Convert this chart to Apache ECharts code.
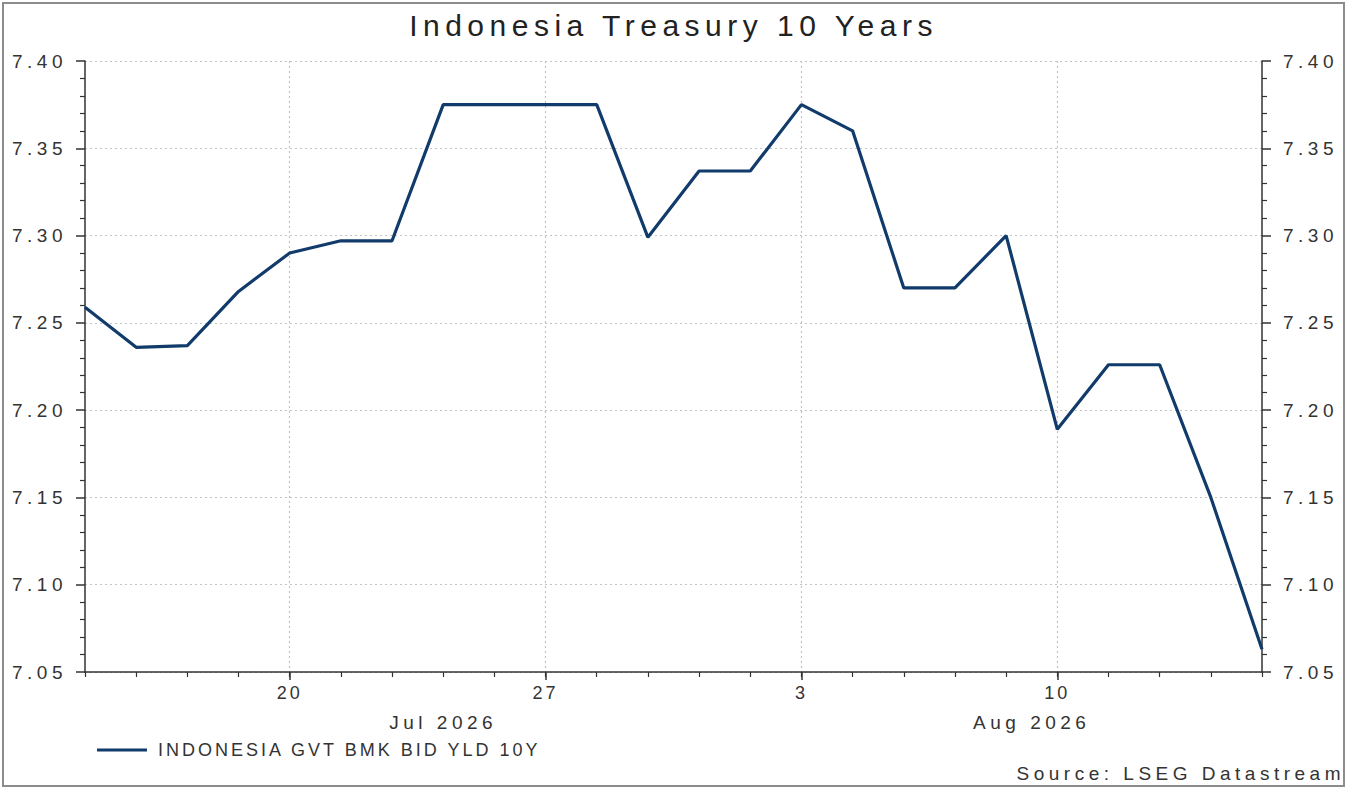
<!DOCTYPE html>
<html>
<head>
<meta charset="utf-8">
<script src="https://cdn.jsdelivr.net/npm/echarts@6/dist/echarts.min.js"></script>
<style>
  html, body { margin: 0; padding: 0; background: #fff; }
  #main { width: 1347px; height: 789px; }
  /* the reference text is set quite loose */
  #main text { letter-spacing: 3px; }
  #main text[style*="30px"] { letter-spacing: 5.5px; }
  #main text[style*="19px"] { letter-spacing: 4.5px; }
  #frame {
    position: absolute; left: 2px; top: 2px; width: 1343px; height: 785px;
    box-sizing: border-box; border: 2px solid #8c8c8c; pointer-events: none;
  }
</style>
</head>
<body>
<div id="main"></div>
<div id="frame"></div>
<script>
// business days on the axis
const dates = [
  "2026-07-14", "2026-07-15", "2026-07-16", "2026-07-17",
  "2026-07-20", "2026-07-21", "2026-07-22", "2026-07-23", "2026-07-24",
  "2026-07-27", "2026-07-28", "2026-07-29", "2026-07-30", "2026-07-31",
  "2026-08-03", "2026-08-04", "2026-08-05", "2026-08-06", "2026-08-07",
  "2026-08-10", "2026-08-11", "2026-08-12", "2026-08-13", "2026-08-14"
];
const yields = [
  7.259, 7.236, 7.237, 7.268,
  7.290, 7.297, 7.297, 7.375, 7.375,
  7.375, 7.375, 7.299, 7.337, 7.337,
  7.375, 7.360, 7.270, 7.270, 7.300,
  7.189, 7.226, 7.226, 7.150, 7.063
];
const seriesName = "INDONESIA GVT BMK BID YLD 10Y";
const yTicks = [7.05, 7.10, 7.15, 7.20, 7.25, 7.30, 7.35, 7.40];
const monthNames = ["Jan", "Feb", "Mar", "Apr", "May", "Jun", "Jul", "Aug", "Sep", "Oct", "Nov", "Dec"];

const isMonday = (d) => new Date(d + "T00:00:00Z").getUTCDay() === 1;

// month label sits between the month's first day and the next month's first day
const months = [];
dates.forEach((d, i) => {
  const key = d.slice(0, 7);
  if (!months.length || months[months.length - 1].key !== key) {
    months.push({ key: key, start: i });
  }
});
months.forEach((m, k) => {
  const end = k + 1 < months.length ? months[k + 1].start : dates.length - 1;
  m.center = (m.start + end) / 2;
  m.label = monthNames[+m.key.slice(5, 7) - 1] + " " + m.key.slice(0, 4);
});

const textColor = "#333";
const font = "'Liberation Sans', Arial, sans-serif";
const chart = echarts.init(document.getElementById("main"), null, { renderer: "svg" });

const yAxisBase = {
  type: "value",
  min: yTicks[0],
  max: yTicks[yTicks.length - 1],
  interval: 0.05,
  axisLine: { show: true, lineStyle: { color: "#333", width: 1.5 } },
  axisTick: { show: true, length: 9, lineStyle: { color: "#333", width: 1.5 } },
  minorTick: { show: true, splitNumber: 5, length: 5, lineStyle: { color: "#333", width: 1.2 } },
  axisLabel: {
    fontSize: 19, color: textColor, fontFamily: font,
    formatter: (v) => v.toFixed(2)
  }
};

chart.setOption({
  animation: false,
  backgroundColor: "#fff",
  title: [
    {
      text: "Indonesia Treasury 10 Years",
      left: "center",
      top: 5,
      textStyle: { fontSize: 30, fontWeight: "normal", color: "#222", fontFamily: font }
    },
    {
      text: "Source: LSEG Datastream",
      left: "right",
      bottom: 1,
      padding: [5, 2, 5, 5],
      textStyle: { fontSize: 19, fontWeight: "normal", color: "#333", fontFamily: font }
    }
  ],
  legend: {
    left: 92,
    top: 736,
    icon: "rect",
    itemWidth: 50,
    itemHeight: 3,
    textStyle: { fontSize: 18, color: textColor, fontFamily: font, padding: [0, 0, 0, 6] },
    data: [seriesName]
  },
  grid: { left: 85, right: 85, top: 61, bottom: 117, containLabel: false },
  xAxis: [
    {
      type: "category",
      data: dates,
      boundaryGap: false,
      position: "bottom",
      axisLine: { show: true, onZero: false, lineStyle: { color: "#333", width: 1.5 } },
      axisTick: {
        show: true, length: 8, interval: (i, d) => isMonday(d),
        lineStyle: { color: "#333", width: 1.5 }
      },
      axisLabel: {
        interval: (i, d) => isMonday(d),
        formatter: (d) => String(+d.slice(8, 10)),
        fontSize: 18, color: textColor, fontFamily: font, margin: 12
      },
      splitLine: {
        show: true, interval: (i, d) => isMonday(d),
        lineStyle: { color: "#c4c4c4", type: [2, 3], width: 1.2 }
      }
    },
    {
      type: "category",
      data: dates,
      boundaryGap: false,
      position: "bottom",
      axisLine: { show: false, onZero: false },
      axisTick: { show: true, length: 5, interval: 0, lineStyle: { color: "#333", width: 1.2 } },
      axisLabel: { show: false },
      splitLine: { show: false }
    },
    {
      type: "value",
      min: 0,
      max: dates.length - 1,
      interval: 0.5,
      position: "bottom",
      axisLine: { show: false, onZero: false },
      axisTick: { show: false },
      splitLine: { show: false },
      axisLabel: {
        margin: 41,
        fontSize: 19, color: textColor, fontFamily: font,
        showMinLabel: true, showMaxLabel: true,
        formatter: (v) => {
          const m = months.find((mm) => Math.abs(mm.center - v) < 1e-6);
          return m ? m.label : "";
        }
      }
    }
  ],
  yAxis: [
    Object.assign({}, yAxisBase, {
      position: "left",
      axisLabel: Object.assign({}, yAxisBase.axisLabel, { margin: 18 }),
      splitLine: { show: true, lineStyle: { color: "#c4c4c4", type: [2, 3], width: 1.2 } }
    }),
    Object.assign({}, yAxisBase, {
      position: "right",
      axisLabel: Object.assign({}, yAxisBase.axisLabel, { margin: 21 }),
      splitLine: { show: false }
    })
  ],
  series: [
    {
      name: seriesName,
      type: "line",
      xAxisIndex: 0,
      yAxisIndex: 0,
      data: yields,
      symbol: "none",
      lineStyle: { color: "#113b6b", width: 3.2 },
      itemStyle: { color: "#113b6b" }
    }
  ]
});
</script>
</body>
</html>
